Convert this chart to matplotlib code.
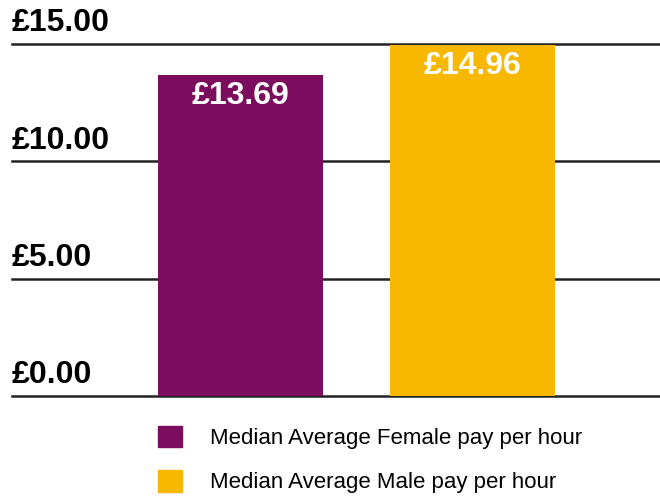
import matplotlib.pyplot as plt
from matplotlib.patches import Patch
import matplotlib.transforms as mtransforms

plt.rcParams['font.family'] = ['Liberation Sans', 'DejaVu Sans']

# data
categories = ['Median Average Female pay per hour', 'Median Average Male pay per hour']
pay = [13.69, 14.96]
colors = ['#7C0D5E', '#F9B800']
ticks = [0, 5, 10, 15]
tick_labels = ['£0.00', '£5.00', '£10.00', '£15.00']

fig = plt.figure(figsize=(6.6, 4.98), dpi=100)
ax = fig.add_axes([12 / 660, 1 - 396 / 498, 1 - 12 / 660, (396 - 44) / 498])

x = range(len(pay))
ax.bar(x, pay, width=0.71, color=colors, zorder=3)
ax.set_xlim(-0.985, 1.808)
ax.set_ylim(0, 15)

# gridlines with labels sitting above them
trans = mtransforms.blended_transform_factory(ax.transAxes, ax.transData)
for t, lab in zip(ticks, tick_labels):
    ax.axhline(t, color='#222222', lw=1.8, zorder=1, clip_on=False)
    ax.annotate(lab, (0, t), xycoords=trans, xytext=(0, 4), textcoords='offset points',
                ha='left', va='bottom', fontsize=23, fontweight='bold', color='black')

for i, v in enumerate(pay):
    ax.annotate(f'£{v:.2f}', (i, v), xytext=(0, -15), textcoords='offset points',
                ha='center', va='center', fontsize=23, fontweight='bold', color='white', zorder=4)

ax.axis('off')

handles = [Patch(color=c) for c in colors]
fig.legend(handles, categories, loc='upper left', bbox_to_anchor=(149 / 660, 1 - 417 / 498),
           frameon=False, fontsize=16, handlelength=1.1, handleheight=1.1,
           handletextpad=1.25, labelspacing=0.95, borderaxespad=0)

fig.savefig('out.png', dpi=100)
